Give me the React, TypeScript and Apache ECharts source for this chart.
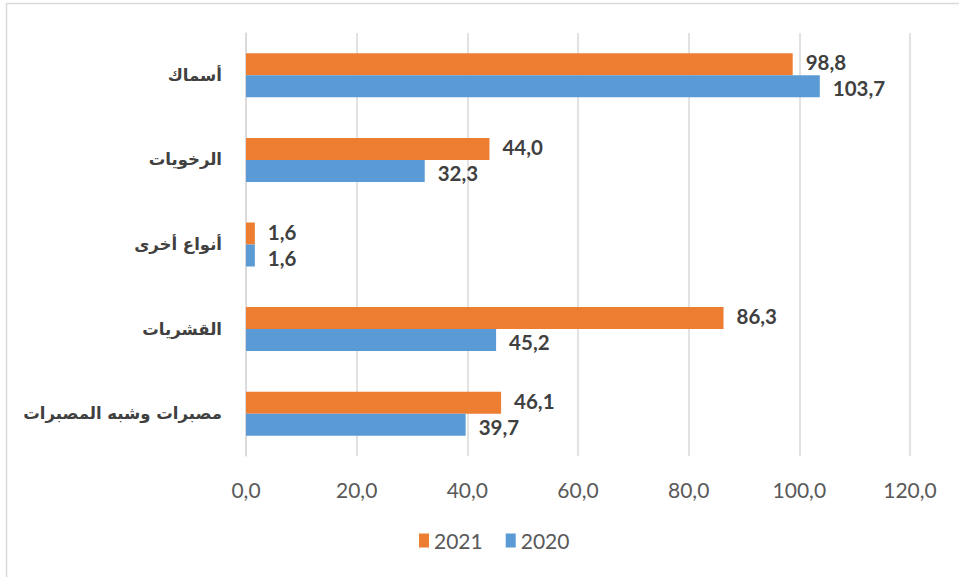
import React, { useEffect, useRef } from "react";
import * as echarts from "echarts";

const categories = ["أسماك", "الرخويات", "أنواع أخرى", "القشريات", "مصبرات وشبه المصبرات"];
const values2021 = [98.8, 44.0, 1.6, 86.3, 46.1];
const values2020 = [103.7, 32.3, 1.6, 45.2, 39.7];
const seriesNames = ["2021", "2020"];
const colors = ["#ED7D31", "#5B9BD5"];

const fmt = (v: number) => v.toFixed(1).replace(".", ",");

export default function App() {
  const ref = useRef<HTMLDivElement>(null);
  useEffect(() => {
    if (!ref.current) return;
    const chart = echarts.init(ref.current, undefined, { renderer: "svg" });
    const label = (dy: number) => ({
      show: true,
      position: "right" as const,
      distance: 13,
      offset: [0, dy],
      formatter: (p: any) => fmt(p.value),
      fontFamily: "Lato, 'Open Sans', sans-serif",
      fontWeight: "bold" as const,
      fontSize: 20.5,
      lineHeight: 18,
      color: "#404040",
    });
    chart.setOption({
      animation: false,
      backgroundColor: "#ffffff",
      graphic: [
        {
          type: "rect",
          shape: { x: 6.5, y: 3.5, width: 1000, height: 1000 },
          style: { fill: "none", stroke: "#d9d9d9", lineWidth: 1.5 },
          silent: true,
        },
      ],
      grid: { left: 246, right: 49, top: 33, bottom: 121 },
      legend: {
        data: seriesNames,
        bottom: 21,
        left: 414,
        icon: "rect",
        itemWidth: 10,
        itemHeight: 14,
        itemGap: 23,
        textStyle: { fontFamily: "Lato, 'Open Sans', sans-serif", fontSize: 21, color: "#595959" },
      },
      xAxis: {
        type: "value",
        min: 0,
        max: 120,
        interval: 20,
        axisLine: { show: false },
        axisTick: { show: false },
        splitLine: { lineStyle: { color: "#d9d9d9", width: 1.5 } },
        axisLabel: {
          formatter: (v: number) => fmt(v),
          fontFamily: "Lato, 'Open Sans', sans-serif",
          fontSize: 21,
          color: "#595959",
          margin: 23,
        },
      },
      yAxis: {
        type: "category",
        data: categories,
        inverse: true,
        axisLine: { show: true, lineStyle: { color: "#d9d9d9", width: 1.5 } },
        axisTick: { show: false },
        axisLabel: {
          fontFamily: "'DejaVu Sans', sans-serif",
          fontWeight: "bold",
          fontSize: 16.5,
          color: "#404040",
          margin: 24,
        },
      },
      series: [
        {
          name: seriesNames[0],
          type: "bar",
          data: values2021,
          itemStyle: { color: colors[0] },
          barWidth: 22,
          barGap: "0%",
          label: label(-2),
        },
        {
          name: seriesNames[1],
          type: "bar",
          data: values2020,
          itemStyle: { color: colors[1] },
          barWidth: 22,
          barGap: "0%",
          label: label(2),
        },
      ],
    });
    return () => chart.dispose();
  }, []);
  return (
    <div
      ref={ref}
      style={{ position: "fixed", left: 0, top: 0, width: 959, height: 577, background: "#fff" }}
    />
  );
}
